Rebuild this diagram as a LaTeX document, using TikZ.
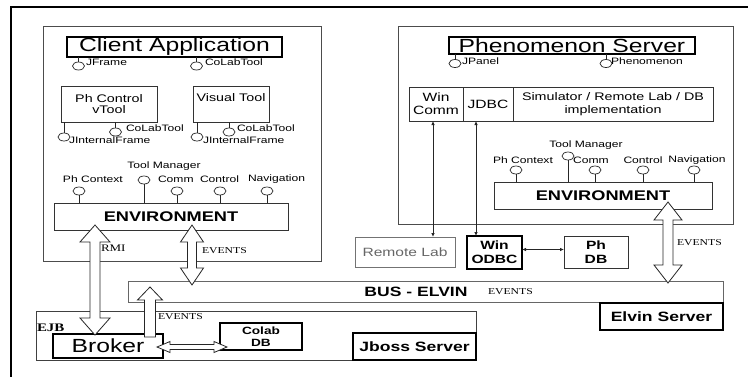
\documentclass[tikz,border=0pt]{standalone}
\usepackage{fontspec}
\setmainfont{Liberation Sans}[FakeStretch=1.3]
\newfontfamily\serifft{Liberation Serif}[FakeStretch=1.3]
\usetikzlibrary{shapes.geometric,arrows.meta,calc}
\newcommand\fs[2]{\fontsize{#1}{#2}\selectfont}
% vertical double hollow arrow: #1 top, #2 bottom, #3 shaft half width, #4 head half width, #5 head length
\newcommand\vdarrow[5]{\draw[hollow] let \p1=(#1), \p2=(#2) in
  (\x1,\y1) -- (\x1+#4,\y1-#5) -- (\x1+#3,\y1-#5) -- (\x2+#3,\y2+#5) -- (\x2+#4,\y2+#5) -- (\x2,\y2)
  -- (\x2-#4,\y2+#5) -- (\x2-#3,\y2+#5) -- (\x1-#3,\y1-#5) -- (\x1-#4,\y1-#5) -- cycle;}
% vertical single hollow arrow pointing up: #1 tip, #2 tail
\newcommand\vuarrow[5]{\draw[hollow] let \p1=(#1), \p2=(#2) in
  (\x1,\y1) -- (\x1+#4,\y1-#5) -- (\x1+#3,\y1-#5) -- (\x2+#3,\y2) -- (\x2-#3,\y2)
  -- (\x1-#3,\y1-#5) -- (\x1-#4,\y1-#5) -- cycle;}
% horizontal double hollow arrow: #1 left, #2 right
\newcommand\hdarrow[5]{\draw[hollow] let \p1=(#1), \p2=(#2) in
  (\x1,\y1) -- (\x1+#5,\y1+#4) -- (\x1+#5,\y1+#3) -- (\x2-#5,\y2+#3) -- (\x2-#5,\y2+#4) -- (\x2,\y2)
  -- (\x2-#5,\y2-#4) -- (\x2-#5,\y2-#3) -- (\x1+#5,\y1-#3) -- (\x1+#5,\y1-#4) -- cycle;}
\begin{document}
\begin{tikzpicture}[x=1pt,y=-1pt,
  every node/.style={inner sep=0pt,outer sep=0pt},
  thinbox/.style={draw=black!80,line width=0.8pt,align=center},
  thickbox/.style={draw=black,line width=1.7pt,align=center},
  lol/.style={draw=black!85,line width=0.7pt,ellipse,minimum width=12pt,minimum height=8pt},
  stem/.style={draw=black!85,line width=0.7pt},
  small/.style={font=\fs{9.3}{10}},
  hollow/.style={draw=black!85,line width=0.8pt,fill=white},
  tarrow/.style={draw=black!85,line width=0.8pt,{Latex[length=4pt,width=3.5pt]}-{Latex[length=4pt,width=3.5pt]}},
  evt/.style={font=\serifft\fs{9}{10},anchor=west}]
\useasboundingbox (0,0) rectangle (748,376);
\fill[white] (0,0) rectangle (748,376);
\draw[line width=2.5pt] (11,378) -- (11,7) -- (750,7);

% ---------------- Client side ----------------
\node[thinbox,draw=black!70,minimum width=278pt,minimum height=235pt] (client) at (182,143.5) {};
\node[thickbox,minimum width=215pt,minimum height=20pt,font=\fs{19}{20}] (ca) at (174.5,47) {Client Application};
\node[lol] (jf) at (78.5,66) {};
\draw[stem] (jf.north |- ca.south) -- (jf.north);
\node[small,anchor=west] (jfl) at (86,62) {JFrame};
\node[lol] (ct1) at (196.5,66) {};
\draw[stem] (ct1.north |- ca.south) -- (ct1.north);
\node[small,anchor=west] (ct1l) at (205,62) {CoLabTool};

\node[thinbox,minimum width=96pt,minimum height=36pt,font=\fs{11}{11.5}] (phc) at (109,104) {Ph Control\\vTool};
\node[thinbox,minimum width=76pt,minimum height=36pt] (vt) at (231,104) {};
\node[font=\fs{11}{12}] (vtt) at (231,98) {Visual Tool};

\node[lol] (jif1) at (64,137) {};
\draw[stem] (jif1.north |- phc.south) -- (jif1.north);
\node[small,anchor=west] (jif1l) at (69,140) {JInternalFrame};
\node[lol] (ct2) at (115.5,132) {};
\draw[stem] (ct2.north |- phc.south) -- (ct2.north);
\node[small,anchor=west] (ct2l) at (126,128) {CoLabTool};
\node[lol] (jif2) at (197,137) {};
\draw[stem] (jif2.north |- vt.south) -- (jif2.north);
\node[small,anchor=west] (jif2l) at (203,140) {JInternalFrame};
\node[lol] (ct3) at (229,132) {};
\draw[stem] (ct3.north |- vt.south) -- (ct3.north);
\node[small,anchor=west] (ct3l) at (237,128) {CoLabTool};

\node[thinbox,minimum width=234pt,minimum height=27pt,font=\bfseries\fs{14}{15}] (env1) at (171,216.5) {ENVIRONMENT};
\node[small] (tm1l) at (164,166) {Tool Manager};
\node[lol] (tm1) at (144,180) {};
\draw[stem] (tm1.south) -- (tm1.south |- env1.north);
\node[small,anchor=west] (pc1l) at (63,179) {Ph Context};
\node[lol] (pc1) at (79,191) {};
\draw[stem] (pc1.south) -- (pc1.south |- env1.north);
\node[small,anchor=west] (cm1l) at (158,179) {Comm};
\node[lol] (cm1) at (177,191) {};
\draw[stem] (cm1.south) -- (cm1.south |- env1.north);
\node[small,anchor=west] (co1l) at (200,179) {Control};
\node[lol] (co1) at (220,191) {};
\draw[stem] (co1.south) -- (co1.south |- env1.north);
\node[small,anchor=west] (nv1l) at (248,179) {Navigation};
\node[lol] (nv1) at (267,191) {};
\draw[stem] (nv1.south) -- (nv1.south |- env1.north);

% ---------------- Phenomenon server ----------------
\node[thinbox,draw=black!70,minimum width=335pt,minimum height=198pt] (ps) at (565.5,125) {};
\node[thickbox,minimum width=246pt,minimum height=17pt,font=\fs{19}{20}] (pst) at (572,45.5) {Phenomenon Server};
\node[lol] (jp) at (455,63.5) {};
\draw[stem] (jp.north |- pst.south) -- (jp.north);
\node[small,anchor=west] (jpl) at (462,61) {JPanel};
\node[lol] (ph) at (606,63.5) {};
\draw[stem] (ph.north |- pst.south) -- (ph.north);
\node[small,anchor=west] (phl) at (611,61) {Phenomenon};

\node[thinbox,minimum width=54pt,minimum height=34pt,font=\fs{12}{13}] (wc) at (436,104) {Win\\Comm};
\node[thinbox,minimum width=50pt,minimum height=34pt,font=\fs{12}{13}] (jdbc) at (488,104) {JDBC};
\node[thinbox,minimum width=200pt,minimum height=34pt,font=\fs{11}{13}] (sim) at (613,104) {Simulator / Remote Lab / DB\\implementation};

\node[thinbox,minimum width=218pt,minimum height=27pt,font=\bfseries\fs{14}{15}] (env2) at (603,195.5) {ENVIRONMENT};
\node[small] (tm2l) at (586,145) {Tool Manager};
\node[lol] (tm2) at (568,156) {};
\draw[stem] (tm2.south) -- (tm2.south |- env2.north);
\node[small] (pc2l) at (523,160) {Ph Context};
\node[lol] (pc2) at (516,170) {};
\draw[stem] (pc2.south) -- (pc2.south |- env2.north);
\node[small] (cm2l) at (591,160) {Comm};
\node[lol] (cm2) at (595,170) {};
\draw[stem] (cm2.south) -- (cm2.south |- env2.north);
\node[small] (co2l) at (643,160) {Control};
\node[lol] (co2) at (643,170) {};
\draw[stem] (co2.south) -- (co2.south |- env2.north);
\node[small] (nv2l) at (697,160) {Navigation};
\node[lol] (nv2) at (694,170) {};
\draw[stem] (nv2.south) -- (nv2.south |- env2.north);

\node[thinbox,draw=black!55,text=black!60,minimum width=100pt,minimum height=30pt,font=\fs{12}{13}] (rl) at (405,252) {Remote Lab};
\node[thickbox,minimum width=55pt,minimum height=33pt,font=\bfseries\fs{12}{14}] (odbc) at (494.5,252.5) {Win\\ODBC};
\node[thinbox,minimum width=64pt,minimum height=32pt,font=\bfseries\fs{12}{14}] (phdb) at (596,252) {Ph\\DB};

\coordinate (wca) at ([xshift=-3pt]wc.south);
\draw[tarrow] (wca) -- (wca |- rl.north);
\coordinate (jda) at ([xshift=-12pt]jdbc.south);
\draw[tarrow] (jda) -- (jda |- odbc.north);
\coordinate (oda) at ([yshift=3pt]odbc.east);
\draw[tarrow] (oda) -- (oda -| phdb.west);

% ---------------- Bus, EJB ----------------
\node[thinbox,draw=black!60,minimum width=595pt,minimum height=21pt] (bus) at (425.5,291.5) {};
\node[font=\bfseries\fs{13.5}{14}] (busl) at (416,292) {BUS - ELVIN};
\node[evt] (bevt) at (488,292) {EVENTS};
\node[thickbox,minimum width=123pt,minimum height=27pt,font=\bfseries\fs{13.5}{14}] (elvin) at (661.5,316.5) {Elvin Server};

\node[thinbox,draw=black!75,minimum width=440pt,minimum height=49pt] (ejb) at (256,335.5) {};
\node[anchor=west,font=\serifft\bfseries\fs{11.5}{12}] (ejbl) at (37,328) {EJB};
\node[thickbox,minimum width=110pt,minimum height=24pt,font=\fs{19}{20}] (broker) at (108,346) {Broker};
\node[thickbox,minimum width=82pt,minimum height=27pt,font=\bfseries\fs{10.5}{12}] (colab) at (261,336.5) {Colab\\DB};
\node[thickbox,minimum width=123pt,minimum height=27pt,font=\bfseries\fs{13.5}{14}] (jboss) at (414.5,346.5) {Jboss Server};

% ---------------- hollow arrows ----------------
\coordinate (rmiT) at (95,225);
\coordinate (rmiB) at (95,335);
\vdarrow{rmiT}{rmiB}{5pt}{15pt}{17pt}
\node[anchor=west,font=\serifft\fs{10}{11}] (rmil) at (101,248) {RMI};

\coordinate (ev1T) at (192,225);
\coordinate (ev1B) at (192,285);
\vdarrow{ev1T}{ev1B}{4.5pt}{11.5pt}{17pt}
\node[evt] (ev1l) at (202,251) {EVENTS};

\coordinate (ev2T) at (668,202);
\coordinate (ev2B) at (668,283);
\vdarrow{ev2T}{ev2B}{5pt}{14pt}{18pt}
\node[evt] (ev2l) at (677,243) {EVENTS};

\coordinate (ev3T) at (150,287);
\coordinate (ev3B) at (150,337);
\vuarrow{ev3T}{ev3B}{5.5pt}{12.5pt}{13pt}
\node[evt] (ev3l) at (158,317) {EVENTS};

\coordinate (bcL) at (157,347);
\coordinate (bcR) at (227,347);
\hdarrow{bcL}{bcR}{2.5pt}{5.5pt}{13pt}
\end{tikzpicture}
\end{document}
